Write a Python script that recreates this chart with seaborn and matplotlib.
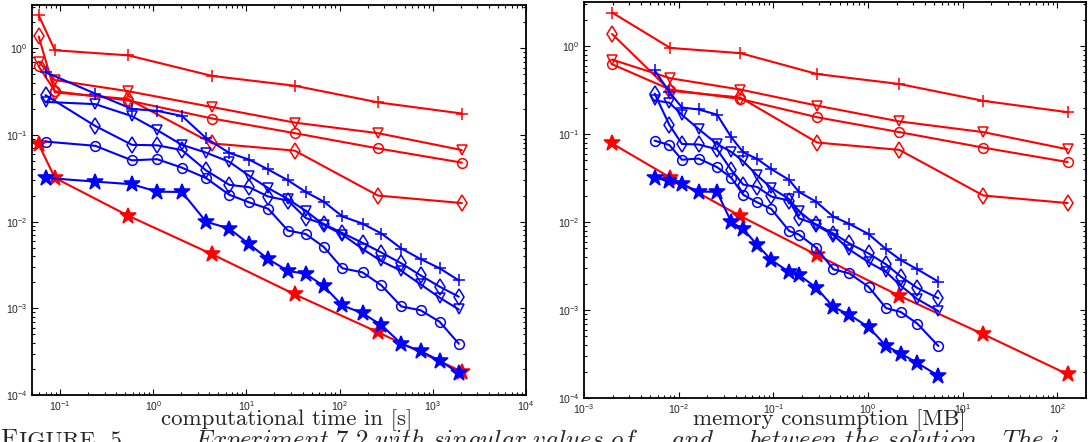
import numpy as np
import pandas as pd
import matplotlib
matplotlib.use("Agg")
import matplotlib.pyplot as plt
import seaborn as sns
from matplotlib.ticker import LogLocator, NullFormatter

# ---------------- data ----------------
# red method: 7 refinement levels
time_red = [0.059, 0.088, 0.54, 4.3, 33, 258, 2050]
mem_red = [0.00198, 0.00815, 0.0447, 0.29, 2.14, 16.5, 128]
red_plus = [2.4, 0.95, 0.83, 0.48, 0.37, 0.238, 0.177]
red_tri = [0.70, 0.43, 0.32, 0.21, 0.139, 0.105, 0.067]
red_circ = [0.62, 0.32, 0.25, 0.155, 0.105, 0.070, 0.048]
red_diam = [1.37, 0.31, 0.26, 0.080, 0.066, 0.020, 0.0164]
red_star = [0.078, 0.032, 0.0117, 0.0042, 0.00145, 0.00053, 0.000186]

# blue method: 19 adaptive steps
time_blue = [0.0698, 0.239, 0.591, 1.10, 2.03, 3.69, 6.56, 10.7, 17.1, 27.9,
             43.4, 67.7, 107, 176, 281, 460, 740, 1183, 1901]
mem_blue = [0.00557, 0.00796, 0.01083, 0.0162, 0.0254, 0.0359, 0.048, 0.0675,
            0.0948, 0.147, 0.186, 0.283, 0.43, 0.636, 1.01, 1.55, 2.21, 3.31, 5.52]
blue_plus = [0.53, 0.30, 0.20, 0.19, 0.166, 0.092, 0.062, 0.052, 0.040, 0.030,
             0.022, 0.017, 0.0115, 0.0095, 0.0073, 0.0049, 0.0037, 0.0029, 0.0021]
blue_diam = [0.288, 0.127, 0.077, 0.076, 0.067, 0.039, 0.0266, 0.025, 0.0195, 0.0175,
             0.011, 0.0094, 0.0074, 0.0057, 0.0044, 0.0033, 0.0024, 0.00178, 0.00136]
blue_tri = [0.241, 0.227, 0.165, 0.114, 0.077, 0.0626, 0.049, 0.0338, 0.0244, 0.0182,
            0.0133, 0.0092, 0.0071, 0.00485, 0.0035, 0.0027, 0.00189, 0.00133, 0.00097]
blue_circ = [0.084, 0.075, 0.051, 0.0526, 0.042, 0.0318, 0.0204, 0.0167, 0.0141, 0.0079,
             0.0072, 0.0051, 0.0029, 0.0026, 0.00184, 0.00105, 0.00095, 0.0007, 0.00039]
blue_star = [0.032, 0.029, 0.027, 0.0222, 0.022, 0.0100, 0.0083, 0.0055, 0.0037, 0.0027,
             0.0025, 0.0018, 0.00108, 0.00088, 0.00064, 0.00039, 0.00032, 0.00025, 0.000179]

xlabel_left = "computational time in [s]"
xlabel_right = "memory consumption [MB]"

# ---------------- style ----------------
sns.set_style("ticks")
plt.rcParams["font.family"] = ["Liberation Sans", "DejaVu Sans"]
plt.rcParams["mathtext.fontset"] = "cm"
plt.rcParams["axes.linewidth"] = 1.3

RED = (1, 0, 0)
BLUE = (0, 0, 1)

series = [
    ("red", time_red, mem_red, red_plus, "+", RED, 8, False),
    ("red", time_red, mem_red, red_tri, "v", RED, 7, False),
    ("red", time_red, mem_red, red_circ, "o", RED, 7, False),
    ("red", time_red, mem_red, red_diam, "d", RED, 8.5, False),
    ("red", time_red, mem_red, red_star, "*", RED, 12, True),
    ("blue", time_blue, mem_blue, blue_plus, "+", BLUE, 8, False),
    ("blue", time_blue, mem_blue, blue_diam, "d", BLUE, 8.5, False),
    ("blue", time_blue, mem_blue, blue_tri, "v", BLUE, 7, False),
    ("blue", time_blue, mem_blue, blue_circ, "o", BLUE, 7, False),
    ("blue", time_blue, mem_blue, blue_star, "*", BLUE, 12, True),
]

fig = plt.figure(figsize=(10.91, 4.42), dpi=100)
ax1 = fig.add_axes([32 / 1091, 1 - 395 / 442, 494 / 1091, 390 / 442])
ax2 = fig.add_axes([584 / 1091, 1 - 398 / 442, 502 / 1091, 396 / 442])

for ax, xkey in ((ax1, "time"), (ax2, "mem")):
    for name, t, m, y, mk, col, ms, filled in series:
        df = pd.DataFrame({"x": t if xkey == "time" else m, "y": y})
        sns.lineplot(data=df, x="x", y="y", ax=ax, sort=False, estimator=None,
                     color=col, linewidth=1.5, marker=mk, markersize=ms,
                     markeredgecolor=col,
                     markerfacecolor=col if filled else "none",
                     markeredgewidth=1.1, legend=False)
    ax.set_xscale("log")
    ax.set_yscale("log")
    ax.set_ylim(1e-4, 10 ** 0.5)
    ax.set_ylabel("")
    ax.set_yticks([1e-4, 1e-3, 1e-2, 1e-1, 1e0])
    ax.yaxis.set_minor_locator(LogLocator(base=10, subs=np.arange(2, 10)))
    ax.xaxis.set_minor_locator(LogLocator(base=10, subs=np.arange(2, 10)))
    ax.yaxis.set_minor_formatter(NullFormatter())
    ax.xaxis.set_minor_formatter(NullFormatter())
    ax.tick_params(which="both", direction="in", top=True, right=True,
                   labelsize=7.5, width=0.8, color="black", pad=3)
    ax.tick_params(which="major", length=4.5)
    ax.tick_params(which="minor", length=2.5)
    for s in ax.spines.values():
        s.set_visible(True)
        s.set_color("black")

ax1.set_xlim(0.05, 1e4)
ax1.set_xticks([1e-1, 1e0, 1e1, 1e2, 1e3, 1e4])
ax2.set_xlim(1e-3, 2e2)
ax2.set_xticks([1e-3, 1e-2, 1e-1, 1e0, 1e1, 1e2])

ax1.set_xlabel(xlabel_left, fontfamily="cmr10", fontsize=16.5, labelpad=0)
ax2.set_xlabel(xlabel_right, fontfamily="cmr10", fontsize=16.5, labelpad=0)
ax1.xaxis.set_label_coords((287 - 32) / 494, -0.036)
ax2.xaxis.set_label_coords((829 - 584) / 502, -0.029)

# caption (clipped at the bottom edge, as in the reference)
cap_y = -0.012
fig.text(0.0, cap_y, "F", fontfamily="cmr10", fontsize=19,
         va="baseline", ha="left")
fig.text(0.0175, cap_y, "IGURE  5.", fontfamily="cmr10", fontsize=16.5,
         va="baseline", ha="left")
fig.text(0.178, cap_y,
         r"$\mathit{Experiment\ 7.2\ with\ singular\ values\ of\ \ \ \ \ and\ \ \ \ \ between\ the\ solution.\ \ The\ i}$",
         fontsize=18, va="baseline", ha="left")

fig.savefig("out.png", dpi=100)
